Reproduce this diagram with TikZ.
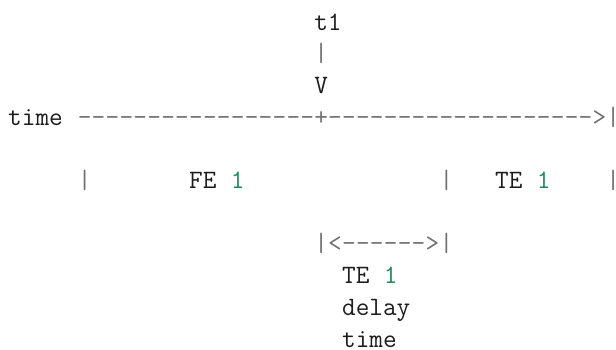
\documentclass[tikz,border=0pt]{standalone}
\definecolor{punc}{RGB}{112,112,112}
\definecolor{txt}{RGB}{28,28,28}
\definecolor{num}{RGB}{36,136,90}
\begin{document}
\begin{tikzpicture}[x=1pt,y=-1pt,
  ch/.style={anchor=base west, inner sep=0pt, outer sep=0pt, font=\fontsize{26.5}{31.8}\selectfont\ttfamily},
  pu/.style={ch,text=punc}, tx/.style={ch,text=txt}, nm/.style={ch,text=num}]
\useasboundingbox (0,0) rectangle (616,349);
\def\cw{13.9125}
\def\xo{8.25}
% row 0-2
\node[tx] (t1) at ({\xo+22*\cw},30) {t1};
\node[pu] (bar1) at ({\xo+22*\cw},61.7) {|};
\node[tx] (vv) at ({\xo+22*\cw},93.4) {V};
% row 3 : time line
\node[tx] (time) at ({\xo+0*\cw},125.1) {time};
\foreach \c in {5,...,21} \node[pu] (da\c) at ({\xo+\c*\cw},125.1) {-};
\node[pu] (plus) at ({\xo+22*\cw},125.1) {+};
\foreach \c in {23,...,41} \node[pu] (db\c) at ({\xo+\c*\cw},125.1) {-};
\node[pu] (gt) at ({\xo+42*\cw},125.1) {>};
\node[pu] (endbar) at ({\xo+43*\cw},125.1) {|};
% row 5
\node[pu] (b5a) at ({\xo+5*\cw},188.5) {|};
\node[tx] (fe) at ({\xo+13*\cw},188.5) {FE};
\node[nm] (fe1) at ({\xo+16*\cw},188.5) {1};
\node[pu] (b5b) at ({\xo+31*\cw},188.5) {|};
\node[tx] (te) at ({\xo+35*\cw},188.5) {TE};
\node[nm] (te1) at ({\xo+38*\cw},188.5) {1};
\node[pu] (b5c) at ({\xo+43*\cw},188.5) {|};
% row 7
\node[pu] (b7a) at ({\xo+22*\cw},251.9) {|};
\node[pu] (lt) at ({\xo+23*\cw},251.9) {<};
\foreach \c in {24,...,29} \node[pu] (dc\c) at ({\xo+\c*\cw},251.9) {-};
\node[pu] (gt7) at ({\xo+30*\cw},251.9) {>};
\node[pu] (b7b) at ({\xo+31*\cw},251.9) {|};
% rows 8-10
\node[tx] (te8) at ({\xo+24*\cw},283.6) {TE};
\node[nm] (te81) at ({\xo+27*\cw},283.6) {1};
\node[tx] (delay) at ({\xo+24*\cw},315.3) {delay};
\node[tx] (time10) at ({\xo+24*\cw},347) {time};
\end{tikzpicture}
\end{document}
